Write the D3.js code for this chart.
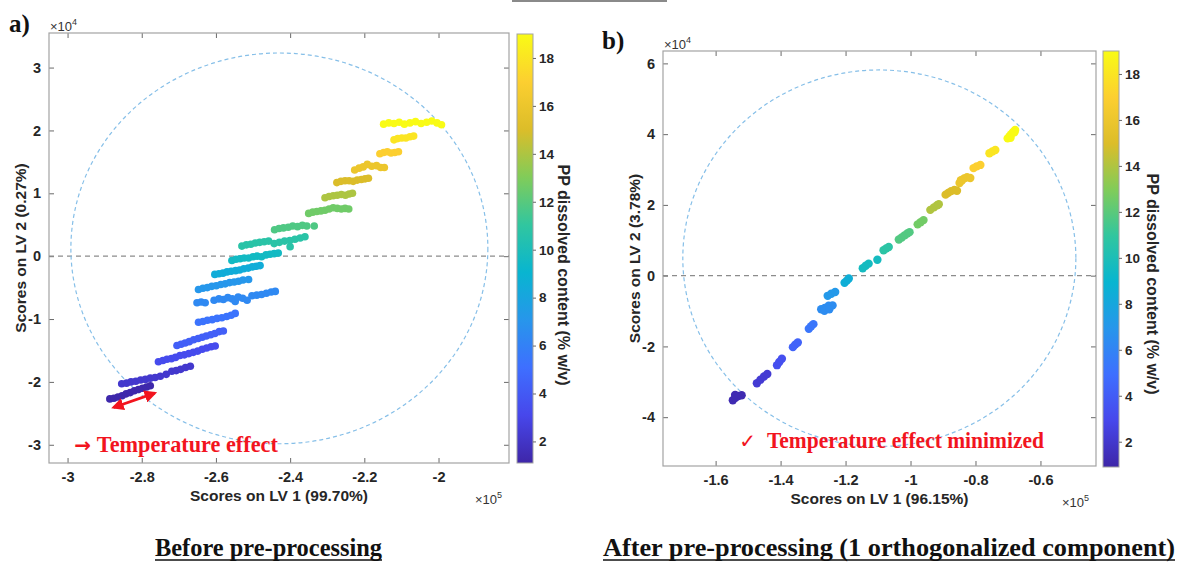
<!DOCTYPE html>
<html>
<head>
<meta charset="utf-8">
<script src="https://cdn.jsdelivr.net/npm/d3@7"></script>
<style>
  body { margin: 0; background: #fff; }
  .tick text { font-family: "Liberation Sans", Arial, sans-serif; font-weight: bold; font-size: 14.5px; fill: #262626; }
  .tick line { stroke: #6a6a6a; }
</style>
</head>
<body>
<script>
// PP dissolved content (% w/v) of each cluster, top cluster first
const levels = [19, 18, 17, 16, 15, 14, 12.6, 11.8, 10.7, 9.6, 8.5, 7.1, 6.4, 5.3, 4.3, 3.3, 2.2, 1.2];

// panel a: scores LV1 (x 1e5) / LV2 (x 1e4), one array per cluster
const aX = [
  [-2.148, -2.134, -2.120, -2.106, -2.092, -2.077, -2.062, -2.047, -2.032, -2.018, -2.004, -1.992],
  [-2.120, -2.110, -2.099, -2.088, -2.077, -2.067],
  [-2.158, -2.148, -2.138, -2.128, -2.118, -2.108],
  [-2.226, -2.214, -2.203, -2.192, -2.180, -2.167, -2.156, -2.146],
  [-2.274, -2.263, -2.252, -2.241, -2.230, -2.219, -2.208, -2.198, -2.189],
  [-2.306, -2.295, -2.284, -2.273, -2.262, -2.251, -2.241, -2.232],
  [-2.350, -2.339, -2.328, -2.317, -2.306, -2.295, -2.284, -2.273, -2.262, -2.252, -2.242],
  [-2.442, -2.430, -2.418, -2.405, -2.393, -2.380, -2.367, -2.355, -2.335],
  [-2.530, -2.518, -2.506, -2.494, -2.482, -2.470, -2.458, -2.443, -2.429, -2.415, -2.401, -2.387, -2.373, -2.360, -2.400],
  [-2.557, -2.546, -2.535, -2.524, -2.512, -2.500, -2.489, -2.477, -2.465, -2.454, -2.443, -2.432],
  [-2.603, -2.592, -2.581, -2.570, -2.559, -2.547, -2.536, -2.525, -2.513, -2.502, -2.491, -2.481],
  [-2.647, -2.635, -2.623, -2.611, -2.599, -2.587, -2.575, -2.563, -2.551, -2.539, -2.527, -2.512],
  [-2.651, -2.640, -2.629, -2.605, -2.592, -2.580, -2.568, -2.556, -2.548, -2.540, -2.528, -2.516, -2.503, -2.490, -2.477, -2.464, -2.451, -2.440],
  [-2.647, -2.635, -2.623, -2.610, -2.597, -2.584, -2.571, -2.559, -2.548],
  [-2.705, -2.694, -2.683, -2.672, -2.660, -2.648, -2.637, -2.626, -2.614, -2.603, -2.591, -2.580],
  [-2.755, -2.743, -2.732, -2.720, -2.709, -2.697, -2.685, -2.673, -2.661, -2.649, -2.637, -2.625, -2.613, -2.602],
  [-2.854, -2.841, -2.829, -2.816, -2.803, -2.790, -2.777, -2.764, -2.750, -2.734, -2.719, -2.707, -2.695, -2.682, -2.669],
  [-2.886, -2.875, -2.864, -2.853, -2.842, -2.831, -2.820, -2.809, -2.798, -2.787, -2.777]
];
const aY = [
  [2.10, 2.12, 2.11, 2.13, 2.10, 2.12, 2.14, 2.11, 2.13, 2.15, 2.12, 2.09],
  [1.85, 1.87, 1.88, 1.88, 1.90, 1.91],
  [1.63, 1.65, 1.66, 1.64, 1.65, 1.66],
  [1.37, 1.40, 1.42, 1.46, 1.43, 1.44, 1.41, 1.41],
  [1.17, 1.19, 1.20, 1.20, 1.19, 1.21, 1.22, 1.23, 1.24],
  [0.93, 0.95, 0.96, 0.97, 0.98, 0.97, 0.99, 1.00],
  [0.68, 0.70, 0.71, 0.72, 0.73, 0.75, 0.77, 0.76, 0.75, 0.76, 0.75],
  [0.42, 0.44, 0.45, 0.46, 0.48, 0.47, 0.49, 0.48, 0.48],
  [0.16, 0.18, 0.19, 0.21, 0.22, 0.23, 0.24, 0.20, 0.22, 0.24, 0.25, 0.27, 0.29, 0.31, 0.15],
  [-0.07, -0.05, -0.04, -0.03, -0.03, -0.01, 0.00, -0.01, 0.02, 0.03, 0.04, 0.05],
  [-0.29, -0.28, -0.27, -0.25, -0.24, -0.23, -0.22, -0.20, -0.19, -0.17, -0.16, -0.15],
  [-0.53, -0.51, -0.50, -0.48, -0.47, -0.45, -0.44, -0.42, -0.41, -0.40, -0.38, -0.37],
  [-0.74, -0.73, -0.74, -0.70, -0.68, -0.69, -0.66, -0.68, -0.72, -0.65, -0.67, -0.70, -0.63, -0.62, -0.61, -0.59, -0.57, -0.56],
  [-1.05, -1.04, -1.02, -1.01, -0.99, -0.98, -0.96, -0.94, -0.91],
  [-1.42, -1.40, -1.38, -1.36, -1.33, -1.31, -1.29, -1.27, -1.25, -1.23, -1.20, -1.19],
  [-1.68, -1.66, -1.64, -1.63, -1.61, -1.58, -1.57, -1.55, -1.53, -1.51, -1.48, -1.46, -1.44, -1.43],
  [-2.03, -2.02, -2.00, -1.99, -1.97, -1.96, -1.94, -1.93, -1.91, -1.88, -1.83, -1.82, -1.80, -1.77, -1.75],
  [-2.27, -2.26, -2.24, -2.22, -2.19, -2.17, -2.14, -2.12, -2.10, -2.08, -2.06]
];

// panel b: after orthogonalization
const bX = [
  [-0.701, -0.695, -0.690, -0.684, -0.678, -0.692, -0.680],
  [-0.757, -0.748, -0.739],
  [-0.806, -0.796, -0.785],
  [-0.849, -0.842, -0.835, -0.826, -0.816, -0.845],
  [-0.892, -0.884, -0.875, -0.865, -0.857],
  [-0.939, -0.928, -0.918, -0.913],
  [-0.978, -0.969, -0.960],
  [-1.036, -1.027, -1.018, -1.010, -1.003],
  [-1.083, -1.075, -1.067],
  [-1.147, -1.138, -1.129, -1.102],
  [-1.203, -1.196, -1.190],
  [-1.255, -1.244, -1.232],
  [-1.275, -1.264, -1.252, -1.240, -1.265, -1.250],
  [-1.313, -1.306, -1.299],
  [-1.362, -1.355, -1.347],
  [-1.411, -1.404, -1.396],
  [-1.473, -1.462, -1.451, -1.441],
  [-1.547, -1.539, -1.530, -1.520, -1.540]
];
const bY = [
  [3.88, 3.94, 4.00, 4.06, 4.12, 3.90, 4.05],
  [3.46, 3.51, 3.55],
  [3.04, 3.09, 3.13],
  [2.62, 2.69, 2.75, 2.78, 2.76, 2.70],
  [2.29, 2.34, 2.39, 2.42, 2.40],
  [1.86, 1.93, 1.99, 2.02],
  [1.45, 1.51, 1.57],
  [1.02, 1.08, 1.14, 1.19, 1.23],
  [0.72, 0.77, 0.81],
  [0.21, 0.28, 0.34, 0.45],
  [-0.20, -0.14, -0.08],
  [-0.57, -0.51, -0.46],
  [-0.95, -0.91, -0.85, -0.84, -0.99, -0.95],
  [-1.50, -1.43, -1.37],
  [-2.02, -1.95, -1.89],
  [-2.53, -2.44, -2.35],
  [-3.04, -2.94, -2.85, -2.78],
  [-3.52, -3.45, -3.40, -3.38, -3.37]
];

const aXTicks = [-3, -2.8, -2.6, -2.4, -2.2, -2];
const aYTicks = [-3, -2, -1, 0, 1, 2, 3];
const bXTicks = [-1.6, -1.4, -1.2, -1, -0.8, -0.6];
const bYTicks = [-4, -2, 0, 2, 4, 6];
const cbTicks = [2, 4, 6, 8, 10, 12, 14, 16, 18];

// parula colormap key colours
const parula = ["#3e26a8", "#4747eb", "#3e6fff", "#2796eb", "#08b5d0", "#31c69f", "#81cc59", "#dcbd29", "#fccf30", "#f9fb15"];

const W = 1179, H = 567;
const SANS = "'Liberation Sans', Arial, sans-serif";
const SERIF = "'Liberation Serif', 'Times New Roman', serif";
const RED = "#f2141e";

const svg = d3.select("body").append("svg")
  .attr("width", W)
  .attr("height", H);

const defs = svg.append("defs");
defs.append("marker")
  .attr("id", "redhead")
  .attr("viewBox", "0 0 10 10")
  .attr("refX", 8).attr("refY", 5)
  .attr("markerWidth", 4.5).attr("markerHeight", 4.5)
  .attr("orient", "auto-start-reverse")
  .append("path")
  .attr("d", "M0,0 L10,5 L0,10 z")
  .attr("fill", RED);

// cropped underline from the figure above
svg.append("line")
  .attr("x1", 512).attr("x2", 667)
  .attr("y1", 1).attr("y2", 1)
  .attr("stroke", "#8a8a8a").attr("stroke-width", 2);

function drawPanel(p) {
  const x = d3.scaleLinear().domain(p.xDom).range([p.left, p.right]);
  const y = d3.scaleLinear().domain(p.yDom).range([p.bottom, p.top]);
  const cs = d3.range(parula.length).map(i => p.cDom[0] + i * (p.cDom[1] - p.cDom[0]) / (parula.length - 1));
  const color = d3.scaleLinear().domain(cs).range(parula).interpolate(d3.interpolateRgb).clamp(true);

  const g = svg.append("g");

  // axes, MATLAB style ticks inside on all sides
  g.append("g").attr("transform", `translate(0,${p.bottom})`)
    .call(d3.axisBottom(x).tickValues(p.xTicks).tickSize(-5).tickPadding(9).tickFormat(d => String(d)));
  g.append("g").attr("transform", `translate(0,${p.top})`)
    .call(d3.axisTop(x).tickValues(p.xTicks).tickSize(-5).tickFormat(""));
  g.append("g").attr("transform", `translate(${p.left},0)`)
    .call(d3.axisLeft(y).tickValues(p.yTicks).tickSize(-5).tickPadding(8).tickFormat(d => String(d)));
  g.append("g").attr("transform", `translate(${p.right},0)`)
    .call(d3.axisRight(y).tickValues(p.yTicks).tickSize(-5).tickFormat(""));
  g.selectAll(".domain").remove();

  g.append("rect")
    .attr("x", p.left).attr("y", p.top)
    .attr("width", p.right - p.left).attr("height", p.bottom - p.top)
    .attr("fill", "none").attr("stroke", "#a3a3a3").attr("stroke-width", 1.2);

  // zero line and confidence ellipse
  g.append("line")
    .attr("x1", p.left).attr("x2", p.right)
    .attr("y1", y(0)).attr("y2", y(0))
    .attr("stroke", "#8c8c8c").attr("stroke-width", 1.2).attr("stroke-dasharray", "5,4");

  g.append("ellipse")
    .attr("cx", x(p.ell[0])).attr("cy", y(p.ell[1]))
    .attr("rx", x(p.ell[0] + p.ell[2]) - x(p.ell[0]))
    .attr("ry", y(p.ell[1]) - y(p.ell[1] + p.ell[3]))
    .attr("fill", "none").attr("stroke", "#86bfe8")
    .attr("stroke-width", 1.2).attr("stroke-dasharray", "4,3");

  // scores
  const pts = [];
  p.xs.forEach((row, i) => row.forEach((v, j) => pts.push({ x: v, y: p.ys[i][j], c: levels[i] })));
  g.append("g").selectAll("circle")
    .data(pts)
    .enter()
    .append("circle")
    .attr("cx", d => x(d.x))
    .attr("cy", d => y(d.y))
    .attr("r", p.r)
    .attr("fill", d => color(d.c));

  // exponent labels
  const e4 = g.append("text")
    .attr("x", p.left + 1).attr("y", p.top - 2)
    .attr("font-family", SANS).attr("font-size", 13).attr("fill", "#333");
  e4.append("tspan").text("\u00d710");
  e4.append("tspan").attr("dy", -6).attr("font-size", 9).text("4");

  const e5 = g.append("text")
    .attr("x", p.right - 34).attr("y", p.bottom + 41)
    .attr("font-family", SANS).attr("font-size", 13).attr("fill", "#333");
  e5.append("tspan").text("\u00d710");
  e5.append("tspan").attr("dy", -6).attr("font-size", 9).text("5");

  // axis titles
  g.append("text")
    .attr("x", (p.left + p.right) / 2).attr("y", p.bottom + 38)
    .attr("text-anchor", "middle")
    .attr("font-family", SANS).attr("font-weight", "bold").attr("font-size", 15.5).attr("fill", "#262626")
    .text(p.xLabel);

  g.append("text")
    .attr("transform", `translate(${p.yLabelX},${(p.top + p.bottom) / 2}) rotate(-90)`)
    .attr("text-anchor", "middle").attr("dy", "0.35em")
    .attr("font-family", SANS).attr("font-weight", "bold").attr("font-size", 15.5).attr("fill", "#262626")
    .text(p.yLabel);

  // panel letter
  g.append("text")
    .attr("x", p.letterPos[0]).attr("y", p.letterPos[1])
    .attr("font-family", SERIF).attr("font-weight", "bold").attr("font-size", 25).attr("fill", "#111")
    .text(p.letter);

  // colour bar
  const cb = p.cb;
  const c = d3.scaleLinear().domain(p.cDom).range([cb.bottom, cb.top]);
  const grad = defs.append("linearGradient")
    .attr("id", "grad" + p.letter[0])
    .attr("x1", 0).attr("y1", 1).attr("x2", 0).attr("y2", 0);
  parula.forEach((col, i) => grad.append("stop")
    .attr("offset", i / (parula.length - 1))
    .attr("stop-color", col));

  g.append("rect")
    .attr("x", cb.left).attr("y", cb.top)
    .attr("width", cb.w).attr("height", cb.bottom - cb.top)
    .attr("fill", `url(#grad${p.letter[0]})`)
    .attr("stroke", "#a3a3a3").attr("stroke-width", 1);

  const cax = g.append("g").attr("transform", `translate(${cb.left + cb.w},0)`)
    .call(d3.axisRight(c).tickValues(cbTicks).tickSize(3).tickPadding(3));
  cax.select(".domain").remove();
  cax.selectAll("text").style("font-size", "13.5px");

  g.append("text")
    .attr("transform", `translate(${cb.labelPos[0]},${cb.labelPos[1]}) rotate(90)`)
    .attr("text-anchor", "middle").attr("dy", "0.35em")
    .attr("font-family", SANS).attr("font-weight", "bold").attr("font-size", 16).attr("fill", "#262626")
    .text("PP dissolved content (% w/v)");

  // bottom title, underlined
  svg.append("text")
    .attr("x", p.title.x).attr("y", 556)
    .attr("font-family", SERIF).attr("font-weight", "bold").attr("font-size", 25).attr("fill", "#111")
    .attr("textLength", p.title.len).attr("lengthAdjust", "spacingAndGlyphs")
    .text(p.title.text);
  svg.append("line")
    .attr("x1", p.title.x).attr("x2", p.title.x + p.title.len)
    .attr("y1", 560).attr("y2", 560)
    .attr("stroke", "#111").attr("stroke-width", 1.6);

  return { g, x, y };
}

const pa = drawPanel({
  left: 49, right: 509, top: 33, bottom: 463,
  xDom: [-3.05, -1.81], yDom: [-3.29, 3.55], cDom: [1.1, 19],
  xTicks: aXTicks, yTicks: aYTicks,
  xs: aX, ys: aY, r: 3.8,
  ell: [-2.429, 0.124, 0.562, 3.108],
  xLabel: "Scores on LV 1 (99.70%)", yLabel: "Scores on LV 2 (0.27%)", yLabelX: 21,
  letter: "a)", letterPos: [9, 32],
  cb: { left: 517, w: 16, top: 34, bottom: 463, labelPos: [564, 275] },
  title: { x: 155, len: 227, text: "Before pre-processing" }
});

const pb = drawPanel({
  left: 663, right: 1096, top: 51, bottom: 466,
  xDom: [-1.762, -0.429], yDom: [-5.38, 6.35], cDom: [0.9, 19],
  xTicks: bXTicks, yTicks: bYTicks,
  xs: bX, ys: bY, r: 4.2,
  ell: [-1.096, 0.494, 0.605, 5.32],
  xLabel: "Scores on LV 1 (96.15%)", yLabel: "Scores on LV 2 (3.78%)", yLabelX: 635,
  letter: "b)", letterPos: [602, 49],
  cb: { left: 1103, w: 16, top: 51, bottom: 467, labelPos: [1153, 284] },
  title: { x: 603, len: 572, text: "After pre-processing (1 orthogonalized component)" }
});

// annotations (data coordinates)
pa.g.append("line")
  .attr("x1", pa.x(-2.876)).attr("y1", pa.y(-2.407))
  .attr("x2", pa.x(-2.765)).attr("y2", pa.y(-2.179))
  .attr("stroke", RED).attr("stroke-width", 2.8)
  .attr("marker-start", "url(#redhead)").attr("marker-end", "url(#redhead)");

pa.g.append("text")
  .attr("x", pa.x(-2.982)).attr("y", pa.y(-3.11))
  .attr("font-family", "'DejaVu Sans', sans-serif").attr("font-weight", "bold").attr("font-size", 20).attr("fill", RED)
  .text("\u2192");
pa.g.append("text")
  .attr("x", pa.x(-2.921)).attr("y", pa.y(-3.11))
  .attr("font-family", SERIF).attr("font-weight", "bold").attr("font-size", 24).attr("fill", RED)
  .attr("textLength", 181).attr("lengthAdjust", "spacingAndGlyphs")
  .text("Temperature  effect");

pb.g.append("text")
  .attr("x", pb.x(-1.527)).attr("y", pb.y(-4.865))
  .attr("font-family", "'DejaVu Sans', sans-serif").attr("font-size", 20).attr("fill", RED)
  .text("\u2713");
pb.g.append("text")
  .attr("x", pb.x(-1.442)).attr("y", pb.y(-4.865))
  .attr("font-family", SERIF).attr("font-weight", "bold").attr("font-size", 24).attr("fill", RED)
  .attr("textLength", 277).attr("lengthAdjust", "spacingAndGlyphs")
  .text("Temperature  effect minimized");
</script>
</body>
</html>
